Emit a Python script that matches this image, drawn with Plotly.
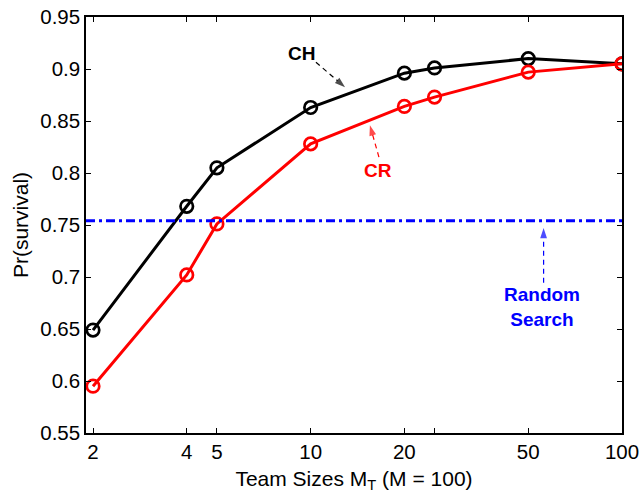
import math
import plotly.graph_objects as go

# Survival probability versus team size (M = 100)
team_sizes = [2, 4, 5, 10, 20, 25, 50, 100]
ch_survival = [0.649, 0.768, 0.805, 0.863, 0.896, 0.901, 0.910, 0.905]
cr_survival = [0.595, 0.702, 0.751, 0.828, 0.864, 0.873, 0.897, 0.905]
random_search = 0.754

x_tick_vals = [2, 4, 5, 10, 20, 50, 100]
x_tick_text = ["2", "4", "5", "10", "20", "50", "100"]
x_unlabelled_ticks = [25]
y_tick_vals = [0.55, 0.6, 0.65, 0.7, 0.75, 0.8, 0.85, 0.9, 0.95]
y_tick_text = ["0.55", "0.6", "0.65", "0.7", "0.75", "0.8", "0.85", "0.9", "0.95"]

FONT = "Liberation Sans, Arial, Helvetica, sans-serif"

fig = go.Figure()

fig.add_trace(go.Scatter(
    x=team_sizes, y=ch_survival, mode="lines+markers", name="CH",
    line=dict(color="black", width=3),
    marker=dict(symbol="circle-open", size=12.5, color="black", line=dict(width=2.7)),
))
fig.add_trace(go.Scatter(
    x=team_sizes, y=cr_survival, mode="lines+markers", name="CR",
    line=dict(color="#ff0000", width=3),
    marker=dict(symbol="circle-open", size=12.5, color="#ff0000", line=dict(width=2.7)),
))

# Random search baseline across the whole plot width
fig.add_shape(type="line", xref="paper", yref="y", x0=0, x1=1,
              y0=random_search, y1=random_search,
              line=dict(color="#0000ff", width=3, dash="9px,4px,3px,4px"))


def dashed_arrow(tail, head, color):
    """Dashed pointer from tail to head (data coords), head oriented along the shaft."""
    fig.add_trace(go.Scatter(
        x=[tail[0], head[0]], y=[tail[1], head[1]], mode="lines+markers",
        line=dict(color=color, width=1.2, dash="5px,4px"),
        marker=dict(symbol="arrow", size=[0, 11], color=color,
                    angleref="previous", line=dict(width=0)),
        hoverinfo="skip", showlegend=False,
    ))


def label(x, y, text, color):
    fig.add_annotation(x=math.log10(x), y=y, xref="x", yref="y", text=text,
                       showarrow=False,
                       font=dict(family=FONT, size=19, color=color))


label(9.38, 0.915, "<b>CH</b>", "black")
dashed_arrow((10.40, 0.9065), (12.9, 0.8825), "black")

label(16.45, 0.8028, "<b>CR</b>", "#ff0000")
dashed_arrow((16.57, 0.8153), (15.5, 0.846), "#ff0000")

label(55.3, 0.6708, "<b>Random<br>Search</b>", "#0000ff")
dashed_arrow((56.0, 0.6944), (56.0, 0.7472), "#0000ff")

axis_common = dict(
    showline=True, linecolor="black", linewidth=1.5, mirror="allticks",
    ticks="inside", ticklen=5, tickwidth=1, tickcolor="black",
    showgrid=False, zeroline=False,
    tickfont=dict(family=FONT, size=20.5, color="black"),
)

fig.update_xaxes(
    type="log", range=[math.log10(1.899), 2],
    tickmode="array", tickvals=x_tick_vals, ticktext=x_tick_text,
    minor=dict(tickmode="array", tickvals=x_unlabelled_ticks, ticks="inside",
               ticklen=5, tickwidth=1, tickcolor="black", showgrid=False),
    title=dict(text="Team Sizes M<sub>T</sub> (M = 100)",
               font=dict(family=FONT, size=21, color="black"), standoff=9),
    **axis_common,
)
fig.update_yaxes(
    range=[0.55, 0.95],
    tickmode="array", tickvals=y_tick_vals, ticktext=y_tick_text,
    title=dict(text="Pr(survival)",
               font=dict(family=FONT, size=21, color="black"), standoff=6),
    **axis_common,
)

fig.update_layout(
    width=642, height=498,
    margin=dict(l=86, r=20, t=17, b=65, autoexpand=False),
    paper_bgcolor="white", plot_bgcolor="white",
    showlegend=False,
)

fig.write_html("out.html")
